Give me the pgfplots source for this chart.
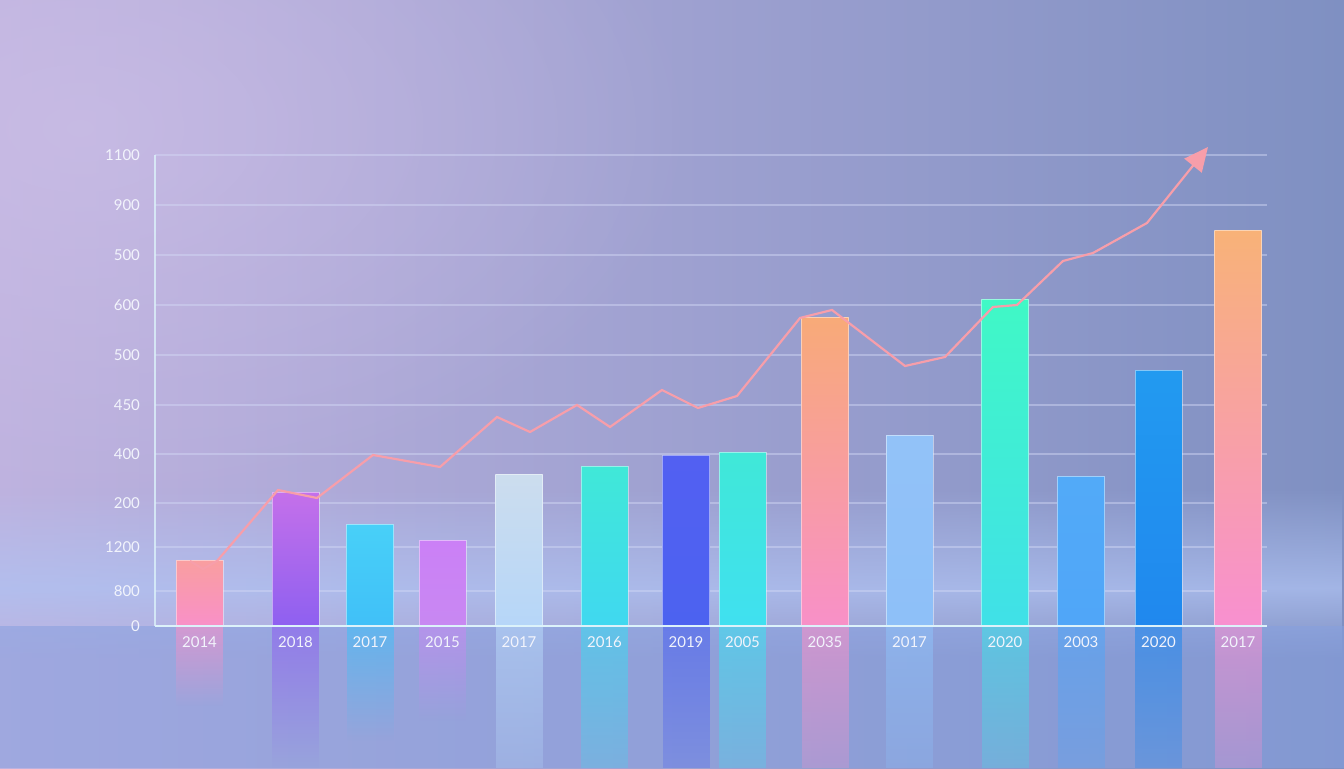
\documentclass[border=0pt]{standalone}
\usepackage{fontspec}
\setmainfont{Lato}
\usepackage{pgfplots}
\pgfplotsset{compat=1.18}
\usetikzlibrary{arrows.meta,fadings}

\definecolor{bgL}{HTML}{BEB2DF}
\definecolor{bgR}{HTML}{7F90C2}
\definecolor{glow}{HTML}{CFC1E8}
\definecolor{hor}{HTML}{AFC2F2}
\definecolor{floor}{HTML}{86A0E0}
\definecolor{tick}{HTML}{F2F4FC}
\definecolor{gridc}{HTML}{D4DAF6}
\definecolor{axl}{HTML}{DCF2FA}
\definecolor{linec}{HTML}{F79EAA}
% bar colours
\definecolor{a1}{HTML}{F99EA0}\definecolor{b1}{HTML}{F990C8}
\definecolor{a2}{HTML}{C470EA}\definecolor{b2}{HTML}{8E60F0}
\definecolor{a3}{HTML}{48D0F8}\definecolor{b3}{HTML}{40C0F8}
\definecolor{a4}{HTML}{CB80F6}\definecolor{b4}{HTML}{C888F2}
\definecolor{a5}{HTML}{CCDDEE}\definecolor{b5}{HTML}{B6D6F8}
\definecolor{a6}{HTML}{40E8D8}\definecolor{b6}{HTML}{40D8F0}
\definecolor{a7}{HTML}{5260F2}\definecolor{b7}{HTML}{4C62F0}
\definecolor{a8}{HTML}{40E8D8}\definecolor{b8}{HTML}{40E0F0}
\definecolor{a9}{HTML}{F8AA78}\definecolor{b9}{HTML}{F890C8}
\definecolor{a10}{HTML}{92C2F8}\definecolor{b10}{HTML}{8EC0F8}
\definecolor{a11}{HTML}{40F8C6}\definecolor{b11}{HTML}{40E0E8}
\definecolor{a12}{HTML}{52AAF8}\definecolor{b12}{HTML}{50A6F8}
\definecolor{a13}{HTML}{229AF0}\definecolor{b13}{HTML}{2088EE}
\definecolor{a14}{HTML}{F8B278}\definecolor{b14}{HTML}{F890D0}

\tikzfading[name=radfade, inner color=transparent!0, outer color=transparent!100]
\tikzfading[name=fullfade, top color=transparent!0, bottom color=transparent!100]
\tikzfading[name=partfade, top color=transparent!0, bottom color=transparent!55]

\pgfplotsset{
  layers/mine/.define layer set={axis background,axis grid,axis ticks,axis lines,pre main,main,axis tick labels,axis descriptions,axis foreground}{},
  mybar/.style={ybar, bar width=47, bar shift=0pt, draw=white, draw opacity=0.45, line width=0.5pt},
  refl/.style={ybar, bar width=47, bar shift=0pt, draw=none, fill=#1, fill opacity=0.6, path fading=fullfade},
  reflp/.style={ybar, bar width=47, bar shift=0pt, draw=none, fill=#1, fill opacity=0.6, path fading=partfade},
}

\begin{document}
\begin{tikzpicture}[x=0.5pt,y=0.5pt]
\shade[left color=bgL, right color=bgR] (0,0) rectangle (1344,768);
\begin{scope}
\clip (0,0) rectangle (1344,768);
\fill[glow, path fading=radfade, opacity=0.6] (80,640) ellipse (620 and 380);
\end{scope}
\fill[hor, path fading=north, opacity=0.75] (0,180) rectangle (1344,280);
\fill[hor, path fading=south, opacity=0.75] (0,110) rectangle (1344,180);
\fill[floor, opacity=0.55] (0,0) rectangle (1344,142);

\begin{axis}[
  set layers=mine,
  at={(77.5pt,71pt)}, anchor=south west,
  scale only axis, width=556pt, height=235.5pt,
  xmin=155, xmax=1267, ymin=0, ymax=471,
  clip=false,
  axis line style={draw=none},
  major tick length=0pt,
  ytick={0,35,79,123,172,221,271,321,371,421,471},
  yticklabels={0,800,1200,200,400,450,500,600,500,900,1100},
  xtick={199.5,295.5,370,442.5,519,604.5,686,742.5,825,909.5,1005,1081,1158.5,1238},
  xticklabels={2014,2018,2017,2015,2017,2016,2019,2005,2035,2017,2020,2003,2020,2017},
  ymajorgrids,
  grid style={draw=gridc, opacity=0.45, line width=0.55pt},
  tick label style={font=\fontsize{7.5}{9}\selectfont, text=tick},
  ticklabel style={/pgfplots/on layer=axis tick labels},
  yticklabel style={xshift=-4pt},
  xticklabel style={yshift=-2pt},
  /pgf/number format/assume math mode=true,
]
% reflections
\addplot[refl=b1]  coordinates {(199.5,-80)};
\addplot[refl=b2]  coordinates {(295.5,-142)};
\addplot[refl=b3]  coordinates {(370,-115)};
\addplot[refl=b4]  coordinates {(442.5,-95)};
\addplot[reflp=b5]  coordinates {(519,-142)};
\addplot[reflp=b6]  coordinates {(604.5,-142)};
\addplot[reflp=b7]  coordinates {(686,-142)};
\addplot[reflp=b8]  coordinates {(742.5,-142)};
\addplot[reflp=b9]  coordinates {(825,-142)};
\addplot[reflp=b10] coordinates {(909.5,-142)};
\addplot[reflp=b11] coordinates {(1005,-142)};
\addplot[reflp=b12] coordinates {(1081,-142)};
\addplot[reflp=b13] coordinates {(1158.5,-142)};
\addplot[reflp=b14] coordinates {(1238,-142)};
% bars
\addplot[mybar, top color=a1,  bottom color=b1]  coordinates {(199.5,65)};
\addplot[mybar, top color=a2,  bottom color=b2]  coordinates {(295.5,133)};
\addplot[mybar, top color=a3,  bottom color=b3]  coordinates {(370,101)};
\addplot[mybar, top color=a4,  bottom color=b4]  coordinates {(442.5,85)};
\addplot[mybar, top color=a5,  bottom color=b5]  coordinates {(519,151)};
\addplot[mybar, top color=a6,  bottom color=b6]  coordinates {(604.5,159)};
\addplot[mybar, top color=a7,  bottom color=b7]  coordinates {(686,170)};
\addplot[mybar, top color=a8,  bottom color=b8]  coordinates {(742.5,173)};
\addplot[mybar, top color=a9,  bottom color=b9]  coordinates {(825,308)};
\addplot[mybar, top color=a10, bottom color=b10] coordinates {(909.5,190)};
\addplot[mybar, top color=a11, bottom color=b11] coordinates {(1005,326)};
\addplot[mybar, top color=a12, bottom color=b12] coordinates {(1081,149)};
\addplot[mybar, top color=a13, bottom color=b13] coordinates {(1158.5,255)};
\addplot[mybar, top color=a14, bottom color=b14] coordinates {(1238,395)};
% axis lines
\draw[axl, line width=1pt] (axis cs:155,0) -- (axis cs:1267,0);
\draw[axl, line width=0.8pt, opacity=0.8] (axis cs:155,0) -- (axis cs:155,471);
% trend line
\addplot[linec, line width=1.1pt, mark=none, -{Triangle[length=12pt,width=11pt]}] coordinates {
(190,65)(203,57)(217,65)(278,136)(317,128)(373,171)(440,159)(497,209)(530,194)
(577,221)(610,199)(662,236)(698,218)(737,230)(800,308)(832,316)(905,260)(945,269)
(993,319)(1017,321)(1063,365)(1093,373)(1147,403)(1208,479)};
\end{axis}
\end{tikzpicture}
\end{document}
